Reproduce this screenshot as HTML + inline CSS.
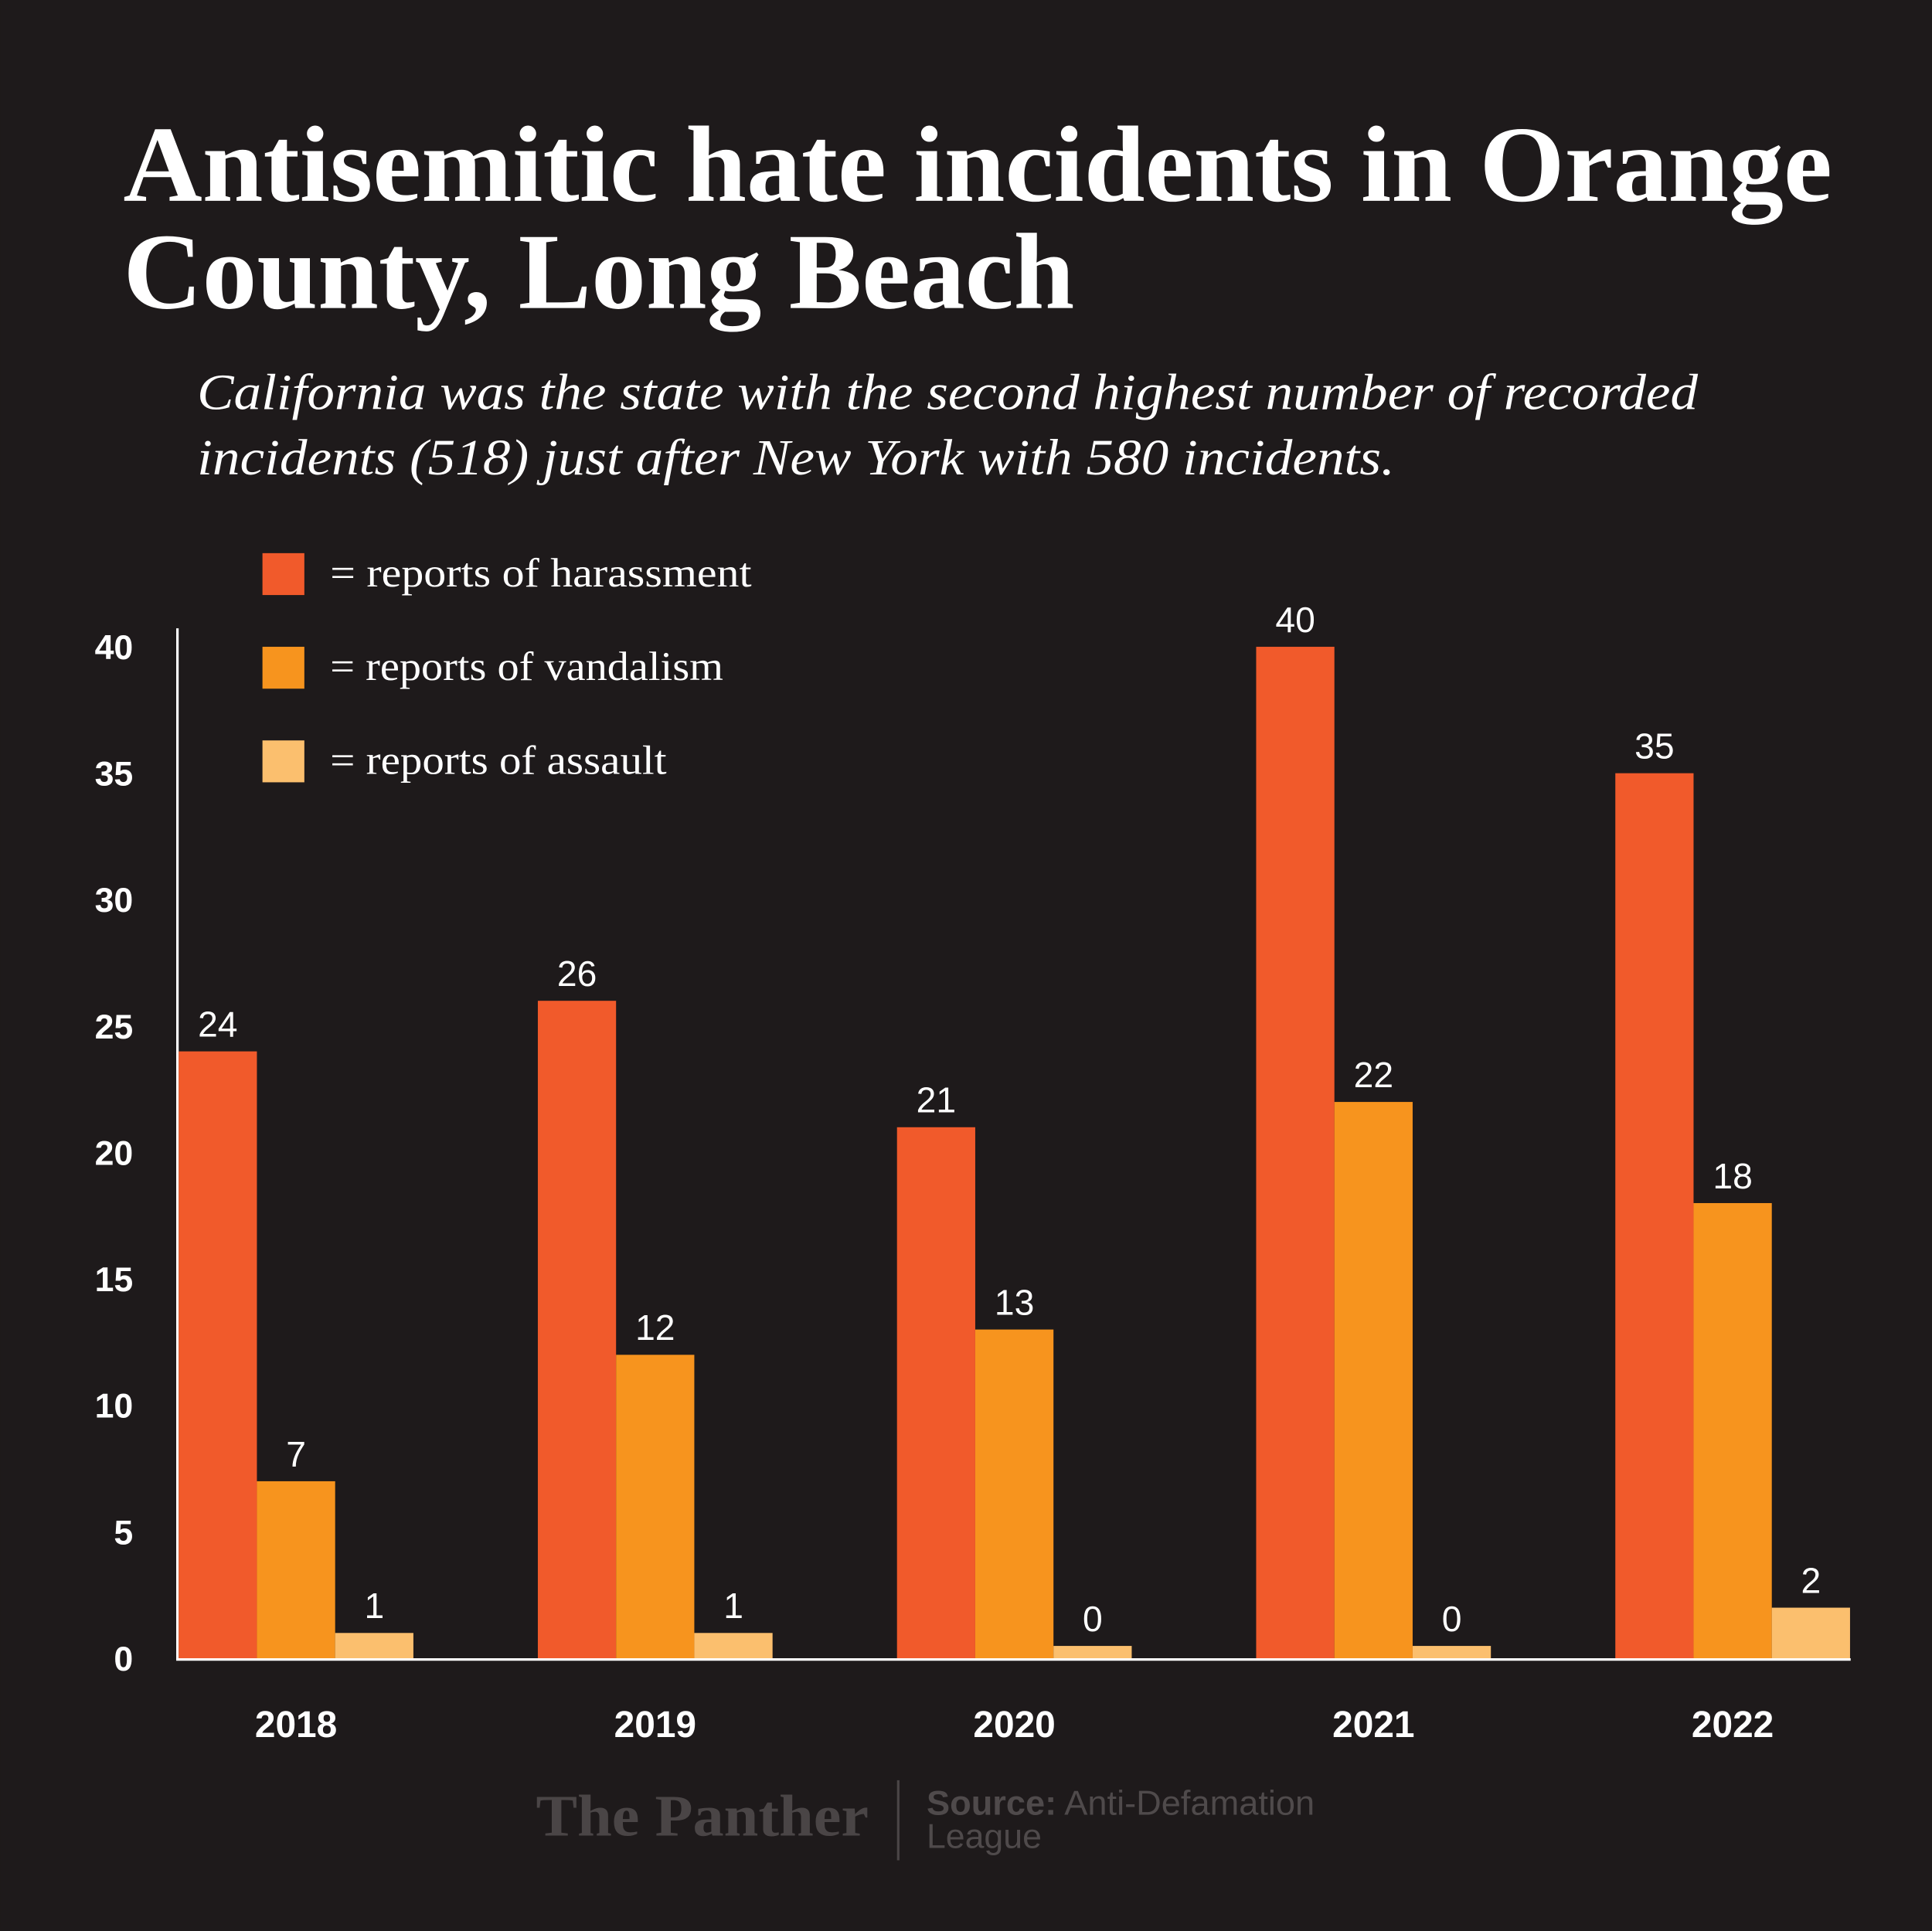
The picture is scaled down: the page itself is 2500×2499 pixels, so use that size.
<!DOCTYPE html>
<html><head><meta charset="utf-8"><style>
html,body{margin:0;padding:0;background:#1e1a1b;}
svg{display:block;}
</style></head><body>
<svg id="chart" width="2500" height="2499" viewBox="0 0 1568 1567.4" xmlns="http://www.w3.org/2000/svg">
<rect x="0" y="0" width="1568" height="1568" fill="#1e1a1b"/>
<text x="100" y="163" font-family="Liberation Serif, serif" font-weight="bold" font-size="88" fill="#fff" textLength="1387" lengthAdjust="spacingAndGlyphs">Antisemitic hate incidents in Orange</text>
<text x="100" y="250" font-family="Liberation Serif, serif" font-weight="bold" font-size="88" fill="#fff" textLength="772" lengthAdjust="spacingAndGlyphs">County, Long Beach</text>
<text x="160" y="332" font-family="Liberation Serif, serif" font-style="italic" font-size="41" fill="#fff" textLength="1218" lengthAdjust="spacingAndGlyphs">California was the state with the second highest number of recorded</text>
<text x="160" y="385" font-family="Liberation Serif, serif" font-style="italic" font-size="41" fill="#fff" textLength="972" lengthAdjust="spacingAndGlyphs">incidents (518) just after New York with 580 incidents.</text>
<g id="legend"></g>
<g id="axes"></g>
<g id="bars"></g>
<g>
<text x="435" y="1490" font-family="Liberation Serif, serif" font-weight="bold" font-size="48" fill="#4a4546" textLength="270" lengthAdjust="spacingAndGlyphs">The Panther</text>
<line x1="729" y1="1445" x2="729" y2="1510" stroke="#4a4546" stroke-width="2"/>
<text x="752" y="1473" font-family="Liberation Sans, sans-serif" font-size="28" fill="#4f4a4b" textLength="315" lengthAdjust="spacingAndGlyphs"><tspan font-weight="bold">Source:</tspan> Anti-Defamation</text>
<text x="752" y="1500" font-family="Liberation Sans, sans-serif" font-size="28" fill="#4f4a4b">League</text>
</g>
</svg>
<script>
const years = ["2018","2019","2020","2021","2022"];
const harassment = [24, 26, 21, 40, 35];
const vandalism = [7, 12, 13, 22, 18];
const assault = [1, 1, 0, 0, 2];
const seriesNames = ["reports of harassment","reports of vandalism","reports of assault"];
const yTicks = [0,5,10,15,20,25,30,35,40];

const NS = "http://www.w3.org/2000/svg";
const colors = ["#f15a2b","#f7941e","#fbbf6e"];
const legendWidths = [342, 319, 273];
const series = [harassment, vandalism, assault];
const baseY = 1346, topY = 525, yMax = 40;
const xLeft = 145, groupStep = 291.5, barW = 63.5;
function y(v){ return baseY - (v / yMax) * (baseY - topY); }
function gx(i){ return xLeft + i * groupStep; }
function mk(tag, attrs, parent){ const e = document.createElementNS(NS, tag); for (const k in attrs) e.setAttribute(k, attrs[k]); parent.appendChild(e); return e; }

const legend = document.getElementById('legend');
seriesNames.forEach((n, i) => {
  const r = mk('rect', {x:213, y:449 + i*76, width:34, height:34, fill:colors[i]}, legend);
  
  
  const t = mk('text', {x:268, y:476 + i*76, 'font-family':'Liberation Serif, serif', 'font-size':33, fill:'#fff', textLength:legendWidths[i], lengthAdjust:'spacingAndGlyphs'}, legend);
  t.textContent = '= ' + n;
  
  
});

const axes = document.getElementById('axes');
const yl = mk('line', {x1:144, y1:510, x2:144, y2:baseY+1, stroke:'#fff', 'stroke-width':2}, axes);


const xl = mk('line', {x1:143, y1:baseY+1, x2:1502, y2:baseY+1, stroke:'#fff', 'stroke-width':2}, axes);


yTicks.forEach(v => {
  const t = mk('text', {x:108, y:y(v)+10, 'text-anchor':'end', 'font-family':'Liberation Sans, sans-serif', 'font-weight':'bold', 'font-size':28, fill:'#fff'}, axes);
  t.textContent = v;
  
  
});
years.forEach((yr, i) => {
  const t = mk('text', {x:gx(i) + barW*1.5, y:1410, 'text-anchor':'middle', 'font-family':'Liberation Sans, sans-serif', 'font-weight':'bold', 'font-size':30, fill:'#fff'}, axes);
  t.textContent = yr;
  
  
});

const bars = document.getElementById('bars');
years.forEach((yr, i) => {
  series.forEach((s, j) => {
    const v = s[i];
    const top = Math.min(y(v), baseY - 10);
    const x = gx(i) + j*barW;
    const r = mk('rect', {x:x, y:top, width:barW, height:baseY - top, fill:colors[j]}, bars);
    
    
    const t = mk('text', {x:x + barW/2, y:top - 12, 'text-anchor':'middle', 'font-family':'Liberation Sans, sans-serif', 'font-size':29, fill:'#fff'}, bars);
    t.textContent = v;
    
    
  });
});
</script>
</body></html>
